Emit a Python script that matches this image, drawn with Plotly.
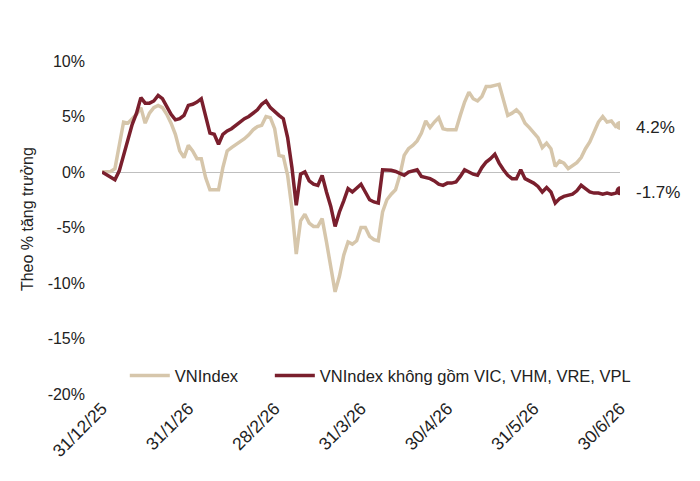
import plotly.graph_objects as go

# Trading-day index (0 = 31/12/25 ... 120 = 30/6/26)
vnindex = [0.0, 0.0, 0.05, 0.3, 2.5, 4.5, 4.4, 4.85, 5.2, 5.8,
           4.4, 5.3, 5.8, 6.0, 5.8, 5.2, 4.4, 3.4, 1.9, 1.3,
           2.4, 1.9, 1.2, 1.2, -0.5, -1.6, -1.6, -1.6, 0.4, 1.9,
           2.2, 2.45, 2.7, 3.0, 3.35, 3.8, 4.1, 4.2, 5.0, 4.9,
           3.9, 1.5, 1.4, -0.3, -3.3, -7.4, -4.4, -3.8, -4.6, -4.9,
           -4.9, -4.2, -6.3, -8.6, -10.8, -9.4, -7.5, -6.3, -6.5, -6.2,
           -5.0, -5.0, -5.8, -6.1, -6.2, -3.6, -2.5, -2.0, -1.6, -0.3,
           1.5, 2.1, 2.4, 2.8, 3.5, 4.6, 4.0, 4.5, 4.9, 3.9,
           3.8, 3.8, 3.8, 5.1, 6.3, 7.2, 6.6, 6.4, 6.8, 7.7,
           7.7, 7.8, 7.9, 6.5, 5.1, 5.3, 5.6, 5.2, 4.4, 4.0,
           3.6, 3.1, 2.2, 2.6, 2.1, 0.5, 1.0, 0.8, 0.3, 0.55,
           0.85, 1.3, 2.1, 2.7, 3.7, 4.5, 5.0, 4.5, 4.6, 4.1,
           4.2]

vnindex_ex = [0.0, -0.25, -0.5, -0.7, 0.1, 1.6, 3.1, 4.3, 5.3, 6.7,
              6.2, 6.2, 6.4, 6.9, 6.6, 5.9, 5.2, 4.7, 4.8, 5.1,
              6.0, 6.1, 6.3, 6.6, 5.0, 3.5, 3.4, 2.5, 3.4, 3.7,
              3.9, 4.2, 4.5, 4.8, 5.0, 5.3, 5.6, 6.1, 6.4, 5.8,
              5.4, 5.1, 4.8, 3.1, 0.4, -3.0, -0.2, 0.0, -0.8, -1.1,
              -1.2, -0.3, -1.8, -3.1, -4.9, -3.6, -2.6, -1.5, -1.8, -1.4,
              -1.1, -1.8, -2.5, -2.7, -2.8, 0.2, 0.2, 0.15, 0.05, -0.1,
              -0.3, 0.0, 0.1, 0.2, -0.4, -0.5, -0.6, -0.8, -1.1, -1.2,
              -1.0, -1.0, -0.9, -0.4, 0.2, 0.0, -0.2, -0.3, 0.4, 0.9,
              1.2, 1.6, 0.8, 0.2, -0.3, -0.6, -0.6, 0.2, -0.6, -0.8,
              -1.0, -1.3, -1.8, -1.4, -1.8, -2.8, -2.4, -2.2, -2.1, -2.0,
              -1.7, -1.2, -1.5, -1.8, -1.9, -1.9, -2.0, -1.9, -2.0, -1.9,
              -1.7]

tick_days = [0, 20, 40, 60, 80, 100, 120]
tick_labels = ["31/12/25", "31/1/26", "28/2/26", "31/3/26", "30/4/26", "31/5/26", "30/6/26"]
y_ticks = [10, 5, 0, -5, -10, -15, -20]

names = ["VNIndex", "VNIndex không gồm VIC, VHM, VRE, VPL"]
colors = ["#D6C6AB", "#7A1F2D"]
legend_ids = ["legend", "legend2"]

days = list(range(len(vnindex)))
FONT = "Liberation Sans, Arial, sans-serif"

fig = go.Figure()
for series, name, color, lg in zip([vnindex, vnindex_ex], names, colors, legend_ids):
    fig.add_trace(go.Scatter(
        x=days, y=series, mode="lines", name=name, legend=lg,
        line=dict(color=color, width=3.5), showlegend=True))
    fig.add_trace(go.Scatter(
        x=[days[-1]], y=[series[-1]], mode="markers",
        marker=dict(color=color, size=9), showlegend=False, hoverinfo="skip"))
    fig.add_annotation(x=days[-1], y=series[-1], text=f"{series[-1]:.1f}%",
                       showarrow=False, xanchor="left", xshift=14, yshift=-2,
                       font=dict(family=FONT, size=17, color="#222222"))

fig.add_annotation(xref="paper", yref="paper", x=-0.145, y=0.525,
                   text="Theo % tăng trưởng", textangle=-90, showarrow=False,
                   xanchor="center", yanchor="middle",
                   font=dict(family=FONT, size=16, color="#222222"))

legend_common = dict(orientation="h", xanchor="left", y=0.055, yanchor="middle",
                     bgcolor="rgba(0,0,0,0)", font=dict(size=16.5), itemwidth=40)

fig.update_layout(
    width=700, height=481,
    margin=dict(l=102, r=80, t=61, b=87),
    paper_bgcolor="white", plot_bgcolor="white",
    font=dict(family=FONT, size=16, color="#222222"),
    legend=dict(x=0.044, **legend_common),
    legend2=dict(x=0.324, **legend_common),
)
fig.update_xaxes(range=[0, 120], tickvals=tick_days, ticktext=tick_labels,
                 tickangle=-45, showgrid=False, zeroline=False, showline=False,
                 ticks="", tickfont=dict(size=17.5))
fig.update_yaxes(range=[-20, 10], tickvals=y_ticks,
                 ticktext=[f"{v}%" for v in y_ticks],
                 showgrid=False, zeroline=True, zerolinecolor="#BFBFBF", zerolinewidth=1,
                 showline=False, ticks="", ticklabelstandoff=16)

fig.write_html("out.html")
